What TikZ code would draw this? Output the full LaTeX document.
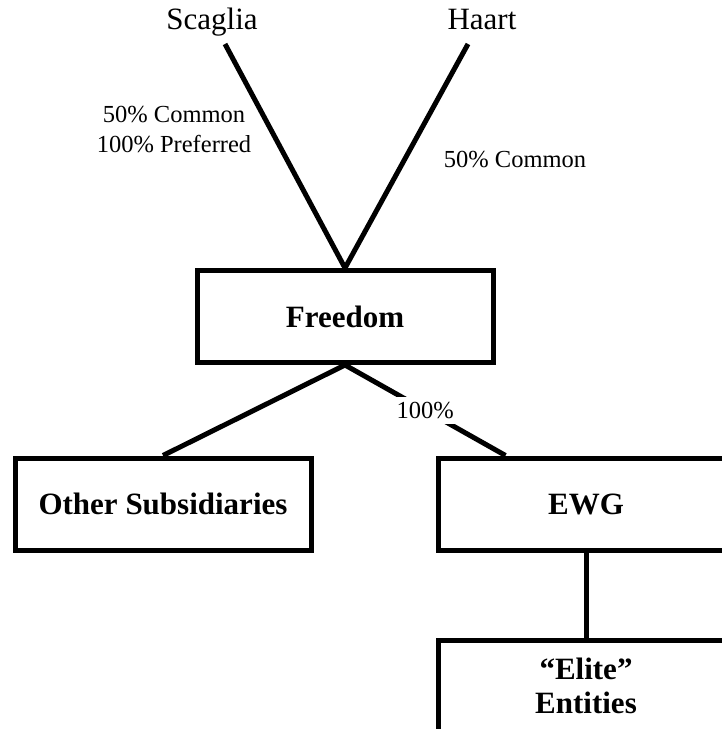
\documentclass[tikz,border=0pt]{standalone}
\usepackage{fontspec}
\setmainfont{Liberation Serif}
\usepackage{tikz}
\tikzset{
  entity/.style={draw, line width=5pt, minimum width=296pt, minimum height=92pt,
    inner sep=0pt, align=center, font=\bfseries\fontsize{31}{34}\selectfont},
  owner/.style={anchor=base, font=\fontsize{31}{34}\selectfont},
  share/.style={align=center, font=\fontsize{24.5}{30}\selectfont},
  link/.style={line width=5pt}
}

\begin{document}
\begin{tikzpicture}[x=1pt, y=-1pt]
        \useasboundingbox (0,0) rectangle (722,729);
        \clip (0,0) rectangle (722,729);

        \node[owner] (scaglia) at (212,29) {Scaglia};
        \node[owner] (haart) at (482,29) {Haart};
        \coordinate (scagliaend) at (225,44);
        \coordinate (haartend) at (468,44);

        \node[entity] (freedom) at (345,316.5) {Freedom};
        \node[entity] (others) at (163,504) {Other Subsidiaries};
        \node[entity] (ewg) at (586,504) {EWG};
        \node[entity] (elite) at (586,686) {“Elite”\\Entities};

        \node[share, anchor=base] (scagliashare) at (174,152) {50\% Common\\100\% Preferred};
        \node[share, anchor=base] (haartshare) at (515,167) {50\% Common};

        \draw[link] (scagliaend) -- (freedom.north);
        \draw[link] (haartend) -- (freedom.north);
        \draw[link] (freedom.south) -- (others.north);
        \draw[link] (freedom.south) -- node[share, fill=white, inner sep=5pt] (ewgshare) {100\%} ([xshift=70pt]ewg.north west);
        \draw[link] (ewg.south) -- (elite.north);
    \end{tikzpicture}
\end{document}
